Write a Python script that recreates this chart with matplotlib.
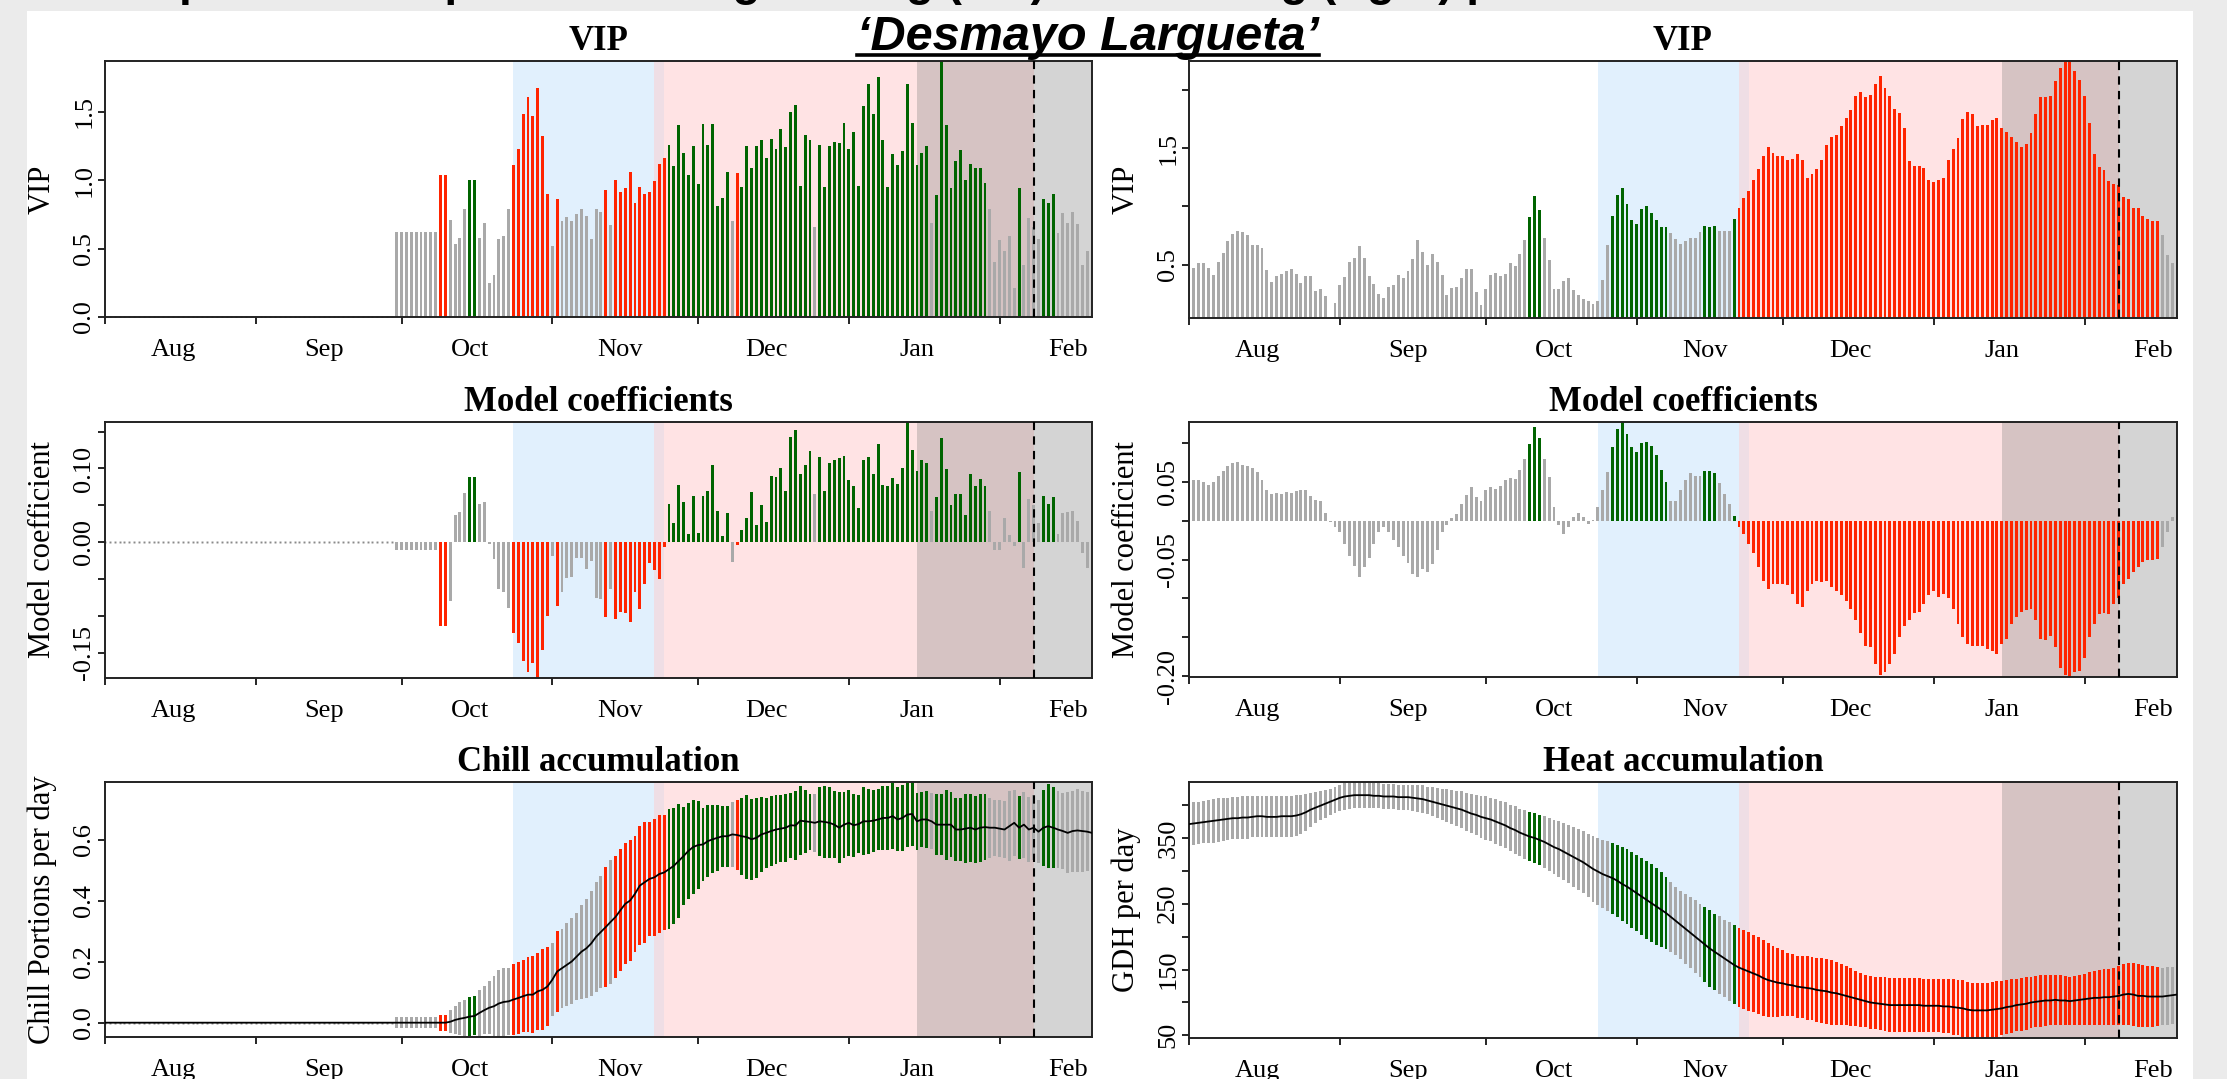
import numpy as np
import matplotlib
matplotlib.use("Agg")
import matplotlib.pyplot as plt
from matplotlib.lines import Line2D
from matplotlib.patches import Rectangle

plt.rcParams["font.family"] = ["Liberation Serif", "DejaVu Serif"]

# one value per day, day 0 = 1 Aug, last day = 20 Feb
month_starts = [0, 31, 61, 92, 122, 153, 184]
month_mid = [14, 45, 75, 106, 136, 167, 198]
month_labels = ["Aug", "Sep", "Oct", "Nov", "Dec", "Jan", "Feb"]

# periods (day numbers)
chill_start, chill_end = 84, 115
force_start = 113
late_start = 167
bloom_day = 191

vip_thresh = 0.8

# ---- left column: chill ----
vip_left = [0.0] * 60 + [
    0.62, 0.62, 0.62, 0.62, 0.62, 0.62, 0.62, 0.62, 0.62,
    1.04, 1.04, 0.71, 0.53, 0.58, 0.79, 1.00, 1.00, 0.58, 0.69,
    0.25, 0.31, 0.57, 0.59, 0.79, 1.11, 1.23, 1.48, 1.61, 1.47,
    1.67, 1.32, 0.90, 0.52, 0.86, 0.70, 0.73, 0.70, 0.75, 0.79,
    0.74, 0.57, 0.79, 0.77, 0.93, 0.67, 1.00, 0.91, 0.94, 1.06,
    0.83, 0.95, 0.90, 0.91, 0.99, 1.12, 1.16, 1.26, 1.10, 1.40,
    1.20, 1.04, 1.25, 0.97, 1.41, 1.26, 1.41, 0.81, 0.87, 1.06,
    0.70, 1.05, 0.95, 1.25, 1.09, 1.25, 1.29, 1.16, 1.30, 1.23,
    1.37, 1.24, 1.50, 1.55, 0.96, 1.33, 1.29, 0.66, 1.26, 0.95,
    1.25, 1.28, 1.27, 1.42, 1.23, 1.35, 0.96, 1.54, 1.70, 1.48,
    1.75, 1.29, 0.95, 1.19, 1.11, 1.21, 1.70, 1.42, 1.11, 1.20,
    1.25, 0.69, 0.89, 1.87, 1.40, 0.94, 1.14, 1.22, 1.00, 1.12,
    1.09, 1.09, 0.98, 0.79, 0.40, 0.56, 0.48, 0.59, 0.21, 0.94,
    0.38, 0.72, 0.66, 0.57, 0.86, 0.83, 0.90, 0.61, 0.76, 0.69,
    0.77, 0.68, 0.38, 0.48, 0.43,
]

coef_left = [0.0] * 60 + [
    -0.010, -0.010, -0.010, -0.010, -0.010, -0.010, -0.010, -0.010, -0.010,
    -0.114, -0.114, -0.080, 0.037, 0.041, 0.067, 0.088, 0.088, 0.052, 0.054,
    -0.003, -0.023, -0.063, -0.067, -0.089, -0.123, -0.137, -0.161, -0.176, -0.163,
    -0.184, -0.146, -0.100, -0.019, -0.087, -0.068, -0.048, -0.047, -0.022, -0.022,
    -0.036, -0.026, -0.076, -0.077, -0.101, -0.063, -0.104, -0.094, -0.096, -0.108,
    -0.068, -0.091, -0.056, -0.028, -0.037, -0.050, -0.006, 0.052, 0.026, 0.077,
    0.055, 0.011, 0.063, 0.012, 0.063, 0.069, 0.105, 0.042, 0.009, 0.039,
    -0.027, -0.004, 0.017, 0.033, 0.068, 0.024, 0.050, 0.028, 0.090, 0.088,
    0.100, 0.069, 0.142, 0.152, 0.092, 0.105, 0.124, 0.066, 0.116, 0.070,
    0.108, 0.112, 0.114, 0.117, 0.085, 0.076, 0.047, 0.112, 0.116, 0.092,
    0.133, 0.077, 0.076, 0.087, 0.079, 0.101, 0.163, 0.125, 0.096, 0.111,
    0.107, 0.042, 0.062, 0.141, 0.099, 0.051, 0.066, 0.066, 0.037, 0.092,
    0.076, 0.086, 0.076, 0.042, -0.011, -0.011, 0.033, 0.010, -0.005, 0.095,
    -0.035, 0.059, 0.050, 0.026, 0.063, 0.052, 0.062, 0.011, 0.039, 0.041,
    0.043, 0.029, -0.015, -0.035, -0.011,
]

chill_mean = [0.0] * 60 + [
    0.0, 0.0, 0.0, 0.0, 0.0, 0.0, 0.0, 0.0, 0.0,
    0.0, 0.0, 0.003, 0.009, 0.013, 0.016, 0.020, 0.022, 0.032, 0.041,
    0.049, 0.054, 0.063, 0.068, 0.070, 0.076, 0.081, 0.087, 0.092, 0.092,
    0.103, 0.108, 0.119, 0.141, 0.168, 0.179, 0.190, 0.201, 0.217, 0.233,
    0.244, 0.260, 0.282, 0.298, 0.314, 0.331, 0.347, 0.369, 0.390, 0.401,
    0.423, 0.450, 0.461, 0.472, 0.477, 0.488, 0.493, 0.504, 0.515, 0.531,
    0.547, 0.564, 0.577, 0.583, 0.585, 0.596, 0.602, 0.607, 0.612, 0.612,
    0.618, 0.616, 0.612, 0.609, 0.602, 0.607, 0.618, 0.623, 0.629, 0.634,
    0.637, 0.640, 0.648, 0.647, 0.663, 0.661, 0.659, 0.656, 0.661, 0.659,
    0.656, 0.650, 0.640, 0.650, 0.656, 0.648, 0.652, 0.661, 0.661, 0.663,
    0.667, 0.672, 0.672, 0.678, 0.667, 0.672, 0.683, 0.685, 0.661, 0.667,
    0.667, 0.661, 0.650, 0.650, 0.650, 0.650, 0.634, 0.634, 0.637, 0.640,
    0.634, 0.640, 0.642, 0.640, 0.640, 0.637, 0.634, 0.645, 0.656, 0.640,
    0.650, 0.634, 0.640, 0.627, 0.640, 0.645, 0.640, 0.634, 0.629, 0.623,
    0.629, 0.631, 0.629, 0.627, 0.623,
]

chill_sd = [0.0] * 60 + [
    0.018, 0.018, 0.018, 0.018, 0.018, 0.018, 0.018, 0.018, 0.018,
    0.026, 0.026, 0.038, 0.046, 0.054, 0.060, 0.064, 0.064, 0.075, 0.079,
    0.087, 0.098, 0.110, 0.111, 0.111, 0.117, 0.118, 0.119, 0.122, 0.126,
    0.127, 0.133, 0.130, 0.119, 0.133, 0.130, 0.136, 0.141, 0.144, 0.154,
    0.163, 0.171, 0.180, 0.184, 0.198, 0.204, 0.201, 0.201, 0.199, 0.198,
    0.190, 0.195, 0.198, 0.187, 0.192, 0.195, 0.190, 0.196, 0.190, 0.187,
    0.160, 0.157, 0.154, 0.144, 0.120, 0.117, 0.112, 0.108, 0.100, 0.100,
    0.106, 0.114, 0.126, 0.137, 0.133, 0.132, 0.124, 0.114, 0.114, 0.114,
    0.109, 0.111, 0.107, 0.114, 0.114, 0.103, 0.092, 0.095, 0.114, 0.118,
    0.117, 0.111, 0.117, 0.108, 0.109, 0.104, 0.096, 0.111, 0.107, 0.102,
    0.100, 0.106, 0.106, 0.108, 0.105, 0.108, 0.105, 0.105, 0.094, 0.091,
    0.094, 0.092, 0.101, 0.100, 0.115, 0.107, 0.103, 0.104, 0.112, 0.112,
    0.111, 0.111, 0.109, 0.098, 0.092, 0.093, 0.093, 0.114, 0.108, 0.103,
    0.108, 0.106, 0.106, 0.103, 0.125, 0.138, 0.133, 0.125, 0.125, 0.133,
    0.133, 0.136, 0.133, 0.130, 0.127,
]

# ---- right column: heat ----
vip_right = [
    0.45, 0.47, 0.51, 0.51, 0.47, 0.41, 0.52, 0.60, 0.70, 0.76,
    0.79, 0.78, 0.75, 0.67, 0.67, 0.64, 0.45, 0.35, 0.40, 0.42,
    0.44, 0.46, 0.42, 0.34, 0.40, 0.40, 0.27, 0.29, 0.23, 0.04,
    0.17, 0.32, 0.39, 0.52, 0.56, 0.66, 0.56, 0.40, 0.33, 0.25,
    0.21, 0.31, 0.32, 0.41, 0.38, 0.44, 0.55, 0.71, 0.61, 0.50,
    0.59, 0.52, 0.41, 0.24, 0.30, 0.31, 0.38, 0.46, 0.46, 0.26,
    0.15, 0.29, 0.41, 0.43, 0.40, 0.42, 0.51, 0.49, 0.59, 0.71,
    0.91, 1.09, 0.97, 0.73, 0.54, 0.29, 0.29, 0.36, 0.38, 0.28,
    0.24, 0.20, 0.19, 0.16, 0.19, 0.37, 0.67, 0.92, 1.10, 1.16,
    1.02, 0.88, 0.85, 0.98, 1.00, 0.94, 0.88, 0.82, 0.82, 0.77,
    0.72, 0.68, 0.70, 0.73, 0.73, 0.78, 0.83, 0.82, 0.83, 0.79,
    0.79, 0.79, 0.89, 0.99, 1.07, 1.13, 1.23, 1.32, 1.43, 1.51,
    1.46, 1.43, 1.43, 1.40, 1.41, 1.45, 1.40, 1.24, 1.28, 1.32,
    1.40, 1.53, 1.60, 1.61, 1.69, 1.76, 1.83, 1.95, 1.98, 1.94,
    1.96, 2.05, 2.12, 2.02, 1.95, 1.84, 1.80, 1.67, 1.39, 1.35,
    1.35, 1.33, 1.23, 1.21, 1.23, 1.24, 1.40, 1.49, 1.59, 1.75,
    1.81, 1.79, 1.69, 1.70, 1.70, 1.74, 1.76, 1.67, 1.64, 1.60,
    1.55, 1.51, 1.54, 1.63, 1.79, 1.94, 1.94, 1.95, 2.08, 2.19,
    2.24, 2.25, 2.16, 2.09, 1.95, 1.72, 1.45, 1.34, 1.31, 1.22,
    1.19, 1.18, 1.08, 1.06, 0.99, 0.99, 0.92, 0.89, 0.87, 0.87,
    0.75, 0.58, 0.51, 0.49,
]

coef_right = [
    0.050, 0.052, 0.053, 0.050, 0.046, 0.050, 0.058, 0.064, 0.070, 0.074,
    0.075, 0.072, 0.070, 0.068, 0.063, 0.052, 0.040, 0.035, 0.036, 0.035,
    0.037, 0.036, 0.038, 0.040, 0.039, 0.032, 0.027, 0.025, 0.010, -0.002,
    -0.008, -0.015, -0.030, -0.045, -0.058, -0.073, -0.060, -0.048, -0.030, -0.015,
    -0.008, -0.015, -0.025, -0.034, -0.045, -0.055, -0.068, -0.073, -0.062, -0.066,
    -0.056, -0.038, -0.015, -0.005, 0.004, 0.009, 0.022, 0.033, 0.043, 0.030,
    0.026, 0.039, 0.043, 0.041, 0.045, 0.052, 0.055, 0.054, 0.065, 0.080,
    0.099, 0.120, 0.106, 0.079, 0.056, 0.018, -0.006, -0.017, -0.008, 0.005,
    0.010, 0.005, -0.004, 0.001, 0.018, 0.039, 0.063, 0.095, 0.118, 0.127,
    0.112, 0.095, 0.088, 0.100, 0.101, 0.096, 0.085, 0.065, 0.050, 0.026,
    0.026, 0.039, 0.052, 0.061, 0.058, 0.057, 0.064, 0.064, 0.061, 0.048,
    0.035, 0.022, 0.006, -0.008, -0.017, -0.030, -0.042, -0.060, -0.077, -0.088,
    -0.081, -0.081, -0.082, -0.083, -0.094, -0.107, -0.111, -0.090, -0.081, -0.077,
    -0.079, -0.077, -0.085, -0.090, -0.096, -0.103, -0.113, -0.128, -0.145, -0.161,
    -0.163, -0.184, -0.199, -0.195, -0.184, -0.171, -0.150, -0.135, -0.128, -0.119,
    -0.118, -0.107, -0.096, -0.090, -0.098, -0.094, -0.100, -0.113, -0.133, -0.150,
    -0.158, -0.161, -0.161, -0.161, -0.165, -0.167, -0.171, -0.158, -0.152, -0.133,
    -0.124, -0.118, -0.115, -0.113, -0.128, -0.152, -0.154, -0.148, -0.163, -0.189,
    -0.199, -0.201, -0.195, -0.193, -0.176, -0.150, -0.133, -0.120, -0.119, -0.120,
    -0.107, -0.100, -0.081, -0.075, -0.066, -0.060, -0.053, -0.051, -0.050, -0.049,
    -0.034, -0.015, 0.005, 0.018,
]

heat_mean = [
    371, 372, 373, 374, 375, 376, 377, 378, 379, 380,
    380, 381, 381, 382, 383, 383, 382, 382, 382, 383,
    383, 383, 384, 386, 389, 393, 396, 399, 402, 405,
    408, 411, 413, 414, 415, 415, 415, 415, 414, 414,
    413, 413, 413, 412, 412, 412, 411, 410, 409, 407,
    405, 403, 401, 399, 397, 395, 393, 390, 387, 385,
    382, 380, 378, 375, 372, 369, 365, 362, 358, 355,
    352, 350, 347, 344, 340, 336, 333, 329, 325, 321,
    317, 313, 308, 303, 299, 295, 292, 289, 285, 280,
    276, 271, 266, 261, 256, 251, 246, 241, 236, 230,
    224, 218, 212, 206, 200, 194, 188, 182, 177, 172,
    167, 162, 157, 153, 150, 147, 144, 141, 137, 134,
    132, 130, 129, 127, 126, 124, 123, 122, 121, 119,
    118, 117, 115, 114, 112, 110, 108, 106, 104, 102,
    100, 99, 98, 97, 96, 96, 96, 96, 96, 96,
    96, 95, 95, 95, 95, 94, 94, 93, 92, 91,
    89, 88, 88, 88, 88, 89, 90, 91, 93, 94,
    96, 97, 98, 100, 101, 102, 103, 103, 104, 103,
    103, 102, 103, 104, 105, 106, 107, 107, 108, 108,
    109, 110, 112, 113, 112, 110, 110, 109, 109, 109,
    109, 110, 111, 112,
]

heat_sd = [
    33, 33, 32, 32, 32, 33, 33, 33, 32, 32,
    32, 32, 32, 31, 31, 31, 31, 31, 31, 31,
    31, 31, 31, 30, 28, 26, 24, 22, 21, 20,
    20, 20, 20, 20, 20, 20, 20, 19, 19, 19,
    19, 19, 19, 19, 19, 19, 20, 20, 21, 21,
    22, 23, 24, 25, 26, 27, 28, 29, 30, 31,
    32, 33, 33, 34, 34, 35, 35, 36, 36, 37,
    37, 38, 38, 39, 40, 41, 42, 43, 44, 45,
    46, 47, 48, 50, 51, 52, 53, 54, 55, 56,
    57, 58, 58, 59, 59, 59, 58, 57, 55, 53,
    52, 52, 53, 54, 55, 56, 57, 58, 58, 59,
    59, 60, 60, 60, 60, 60, 59, 59, 58, 56,
    54, 52, 50, 48, 47, 47, 47, 48, 48, 49,
    49, 49, 49, 48, 46, 45, 44, 42, 41, 40,
    40, 40, 40, 41, 41, 41, 41, 41, 41, 41,
    41, 40, 40, 40, 40, 41, 41, 42, 42, 43,
    42, 42, 42, 42, 42, 42, 42, 41, 41, 41,
    40, 40, 40, 39, 39, 39, 39, 38, 38, 38,
    37, 37, 37, 38, 39, 40, 41, 42, 43, 43,
    44, 45, 46, 47, 48, 48, 47, 47, 46, 45,
    44, 44, 43, 43,
]

series = [vip_left, coef_left, chill_mean, chill_sd,
          vip_right, coef_right, heat_mean, heat_sd]
n_days = len(vip_left)
for s in series:
    if len(s) != n_days:
        raise ValueError("series length %d != %d" % (len(s), n_days))
days = np.arange(n_days)

GREY = "#a9a9a9"
RED = "#ff2400"
GREEN = "#006400"


def sig_colors(vip, coef):
    out = []
    for v, c in zip(vip, coef):
        if v <= vip_thresh:
            out.append(GREY)
        elif c > 0:
            out.append(GREEN)
        else:
            out.append(RED)
    return out


def shade(ax):
    end = n_days - 1
    ax.axvspan(chill_start, force_start, color="#e1f0fd", lw=0, zorder=0)
    ax.axvspan(force_start, chill_end, color="#efdee5", lw=0, zorder=0)
    ax.axvspan(chill_end, late_start, color="#ffe3e4", lw=0, zorder=0)
    ax.axvspan(late_start, bloom_day, color="#d6c3c3", lw=0, zorder=0)
    ax.axvspan(bloom_day, end, color="#d4d4d4", lw=0, zorder=0)
    ax.axvline(bloom_day, color="black", lw=1.5, ls=(0, (4, 3)), zorder=4)


def style(ax, title, ylabel, yticks, ylabels, ylim):
    ax.set_xlim(0, n_days - 1)
    ax.set_ylim(*ylim)
    ax.set_xticks(month_starts)
    ax.set_xticklabels([])
    ax.set_xticks(month_mid, minor=True)
    ax.set_xticklabels(month_labels, minor=True)
    ax.tick_params(axis="x", which="major", length=5, width=1.2)
    ax.tick_params(axis="x", which="minor", length=0, pad=16, labelsize=19)
    ax.set_yticks(yticks)
    ax.set_yticklabels(ylabels, rotation=90, va="center")
    ax.tick_params(axis="y", length=5, width=1.2, pad=2, labelsize=19)
    ax.set_ylabel(ylabel, fontsize=22)
    ax.yaxis.set_label_coords(-0.049, 0.5)
    ax.set_title(title, fontsize=25, fontweight="bold", pad=8)
    for sp in ax.spines.values():
        sp.set_linewidth(1.4)
        sp.set_color("#222222")


def bar_panel(ax, vals, cols):
    vals = np.asarray(vals, dtype=float)
    shade(ax)
    ax.bar(days, vals, width=0.6, color=cols, linewidth=0, zorder=2)
    zero = vals == 0
    ax.plot(days[zero], vals[zero], ls="none", marker="s", ms=1.4, mew=0,
            color="#8a8a8a", zorder=2)


def range_panel(ax, mean, sd, cols):
    mean = np.asarray(mean, dtype=float)
    sd = np.asarray(sd, dtype=float)
    shade(ax)
    ax.bar(days, 2 * sd, bottom=mean - sd, width=0.6, color=cols,
           linewidth=0, zorder=2)
    zero = sd == 0
    ax.plot(days[zero], mean[zero], ls="none", marker="s", ms=1.4, mew=0,
            color="#8a8a8a", zorder=2)
    ax.plot(days, mean, color="black", lw=1.3, zorder=3)
    return (mean - sd).min(), (mean + sd).max()


W, H = 2227, 1079
fig = plt.figure(figsize=(W / 100, H / 100), dpi=100, facecolor="#ebebeb")
fig.add_artist(Rectangle((27 / W, 0), (2193 - 27) / W, (H - 11) / H,
                         transform=fig.transFigure, facecolor="white",
                         edgecolor="none", zorder=-10))


def add_ax(x0, y0, x1, y1):
    return fig.add_axes([x0 / W, 1 - y1 / H, (x1 - x0) / W, (y1 - y0) / H])


cols_left = sig_colors(vip_left, coef_left)
cols_right = sig_colors(vip_right, coef_right)

# VIP
ax = add_ax(105, 61, 1092, 317)
bar_panel(ax, vip_left, cols_left)
style(ax, "VIP", "VIP", [0.0, 0.5, 1.0, 1.5], ["0.0", "0.5", "1.0", "1.5"],
      (0, max(vip_left)))

ax = add_ax(1189, 61, 2177, 318)
bar_panel(ax, vip_right, cols_right)
style(ax, "VIP", "VIP", [0.5, 1.0, 1.5, 2.0], ["0.5", "", "1.5", ""],
      (min(vip_right), max(vip_right)))

# model coefficients
ax = add_ax(105, 422, 1092, 678)
bar_panel(ax, coef_left, cols_left)
style(ax, "Model coefficients", "Model coefficient",
      [-0.15, -0.10, -0.05, 0.0, 0.05, 0.10, 0.15],
      ["-0.15", "", "", "0.00", "", "0.10", ""],
      (min(coef_left), max(coef_left)))

ax = add_ax(1189, 422, 2177, 677)
bar_panel(ax, coef_right, cols_right)
style(ax, "Model coefficients", "Model coefficient",
      [-0.20, -0.15, -0.10, -0.05, 0.0, 0.05, 0.10],
      ["-0.20", "", "", "-0.05", "", "0.05", ""],
      (min(coef_right), max(coef_right)))

# accumulation
ax = add_ax(105, 782, 1092, 1037)
lo, hi = range_panel(ax, chill_mean, chill_sd, cols_left)
style(ax, "Chill accumulation", "Chill Portions per day",
      [0.0, 0.2, 0.4, 0.6], ["0.0", "0.2", "0.4", "0.6"], (lo, hi))

ax = add_ax(1189, 782, 2177, 1038)
lo, hi = range_panel(ax, heat_mean, heat_sd, cols_right)
style(ax, "Heat accumulation", "GDH per day",
      [50, 100, 150, 200, 250, 300, 350, 400],
      ["50", "", "150", "", "250", "", "350", ""], (lo, hi))

# headline texts (the upper one is cut by the top edge, as in the source)
fig.text(860 / W, 1 + 5 / H,
         "Temperature responses during chilling (left) and forcing (right) periods",
         ha="center", va="baseline", fontsize=33, fontweight="bold",
         family="Liberation Sans")
name = fig.text(1088 / W, 1 - 50 / H, "\u2018Desmayo Largueta\u2019", ha="center",
                va="baseline", fontsize=35, fontweight="bold", fontstyle="italic",
                family="Liberation Sans")
fig.canvas.draw()
bb = name.get_window_extent()
fig.add_artist(Line2D([bb.x0 / W, bb.x1 / W], [1 - 55 / H, 1 - 55 / H],
                      transform=fig.transFigure, color="black", lw=2.6))

fig.savefig("out.png", dpi=100, facecolor=fig.get_facecolor())
